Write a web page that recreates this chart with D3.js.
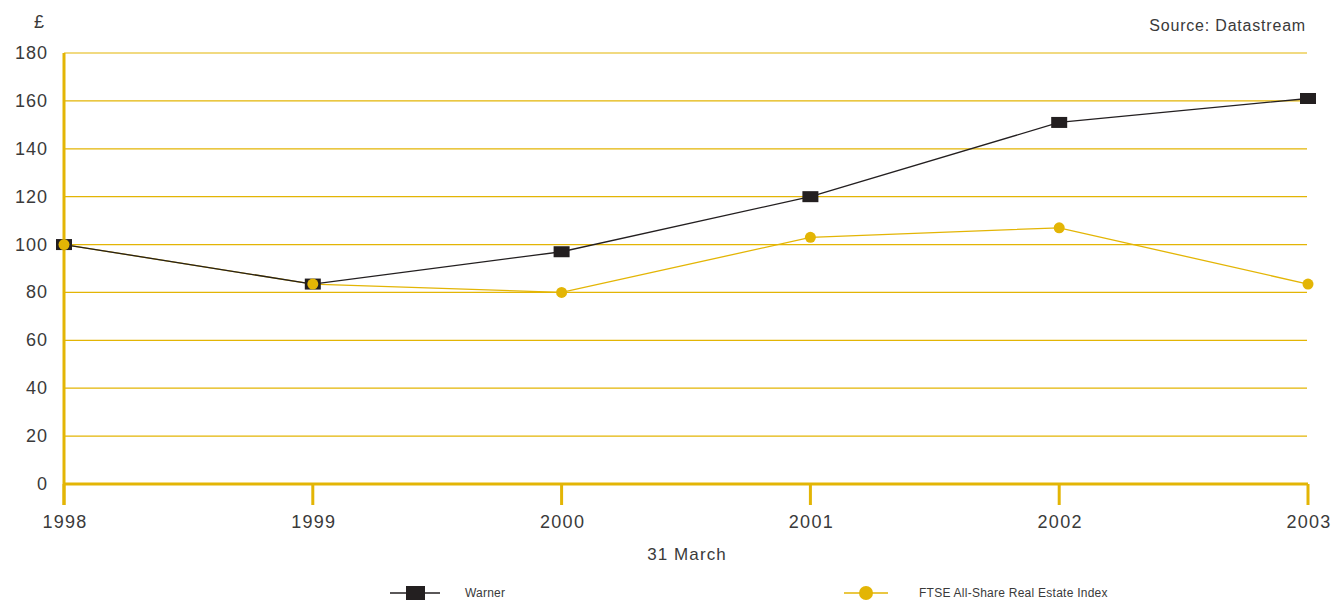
<!DOCTYPE html>
<html>
<head>
<meta charset="utf-8">
<script src="https://cdn.jsdelivr.net/npm/d3@7"></script>
<style>
  body { margin: 0; background: #fff; }
  text { font-family: "Liberation Sans", Arial, sans-serif; fill: #3a3a3a; }
  .grid line { stroke: #e3b505; stroke-width: 1.2; }
</style>
</head>
<body>
<svg id="chart" width="1335" height="600"></svg>
<script>
const years = [1998, 1999, 2000, 2001, 2002, 2003];
const yTicks = [0, 20, 40, 60, 80, 100, 120, 140, 160, 180];
const warner = [100, 83.5, 97, 120, 151, 161];
const ftse = [100, 83.5, 80, 103, 107, 83.5];

const gold = "#e3b505",
    dark = "#231f20";

const margin = {top: 53, right: 27, bottom: 116, left: 64},
    width = 1335 - margin.left - margin.right,
    height = 600 - margin.top - margin.bottom;

const svg = d3.select("#chart");
const g = svg.append("g")
    .attr("transform", `translate(${margin.left},${margin.top})`);

const x = d3.scalePoint().domain(years).range([0, width]);
const y = d3.scaleLinear().domain([0, 180]).range([height, 0]);

// horizontal grid
const grid = g.append("g").attr("class", "grid");
yTicks.filter(d => d > 0).forEach(d => {
    grid.append("line")
        .attr("x1", 0).attr("x2", width - 1)
        .attr("y1", y(d)).attr("y2", y(d));
});

// y tick labels
yTicks.forEach(d => {
    g.append("text")
        .attr("x", -16)
        .attr("y", y(d) + 6)
        .attr("text-anchor", "end")
        .style("font-size", "18px")
        .style("letter-spacing", "1px")
        .text(d);
});

// axes lines
g.append("line")
    .attr("x1", 0).attr("x2", 0)
    .attr("y1", 0).attr("y2", height + 21)
    .attr("stroke", gold).attr("stroke-width", 3);
g.append("line")
    .attr("x1", 0).attr("x2", width)
    .attr("y1", height).attr("y2", height)
    .attr("stroke", gold).attr("stroke-width", 3);

years.forEach(yr => {
    g.append("line")
        .attr("x1", x(yr)).attr("x2", x(yr))
        .attr("y1", height).attr("y2", height + 21)
        .attr("stroke", gold).attr("stroke-width", 3);
    g.append("text")
        .attr("x", x(yr) + 1)
        .attr("y", height + 44)
        .attr("text-anchor", "middle")
        .style("font-size", "18px")
        .style("letter-spacing", "1.3px")
        .text(yr);
});

g.append("text")
    .attr("x", 623)
    .attr("y", height + 76)
    .attr("text-anchor", "middle")
    .style("font-size", "17px")
    .style("letter-spacing", "1.1px")
    .text("31 March");

svg.append("text")
    .attr("x", 34).attr("y", 28)
    .style("font-size", "18px")
    .text("£");

svg.append("text")
    .attr("x", 1306).attr("y", 31)
    .attr("text-anchor", "end")
    .style("font-size", "16px")
    .style("letter-spacing", "0.8px")
    .text("Source: Datastream");

// series
const line = d3.line()
    .x((d, i) => x(years[i]))
    .y(d => y(d));

g.append("path")
    .datum(ftse)
    .attr("d", line)
    .attr("fill", "none")
    .attr("stroke", gold)
    .attr("stroke-width", 1.3);

g.append("path")
    .datum(warner)
    .attr("d", line)
    .attr("fill", "none")
    .attr("stroke", dark)
    .attr("stroke-width", 1.3);

g.selectAll("rect.warner")
    .data(warner)
    .enter().append("rect")
    .attr("class", "warner")
    .attr("x", (d, i) => x(years[i]) - 8)
    .attr("y", d => y(d) - 5.5)
    .attr("width", 16)
    .attr("height", 11)
    .attr("fill", dark);

g.selectAll("circle.ftse")
    .data(ftse)
    .enter().append("circle")
    .attr("class", "ftse")
    .attr("cx", (d, i) => x(years[i]))
    .attr("cy", d => y(d))
    .attr("r", 5.5)
    .attr("fill", gold);

// legend
const legend = svg.append("g").attr("transform", "translate(0,593)");
legend.append("line")
    .attr("x1", 390).attr("x2", 440)
    .attr("stroke", dark).attr("stroke-width", 1.3);
legend.append("rect")
    .attr("x", 406).attr("y", -7)
    .attr("width", 19).attr("height", 14)
    .attr("fill", dark);
legend.append("text")
    .attr("x", 465).attr("y", 4)
    .style("font-size", "12px")
    .style("letter-spacing", "0.2px")
    .text("Warner");

legend.append("line")
    .attr("x1", 844).attr("x2", 888)
    .attr("stroke", gold).attr("stroke-width", 1.5);
legend.append("circle")
    .attr("cx", 866).attr("cy", 0)
    .attr("r", 7)
    .attr("fill", gold);
legend.append("text")
    .attr("x", 919).attr("y", 4)
    .style("font-size", "12px")
    .style("letter-spacing", "0.25px")
    .text("FTSE All-Share Real Estate Index");
</script>
</body>
</html>
